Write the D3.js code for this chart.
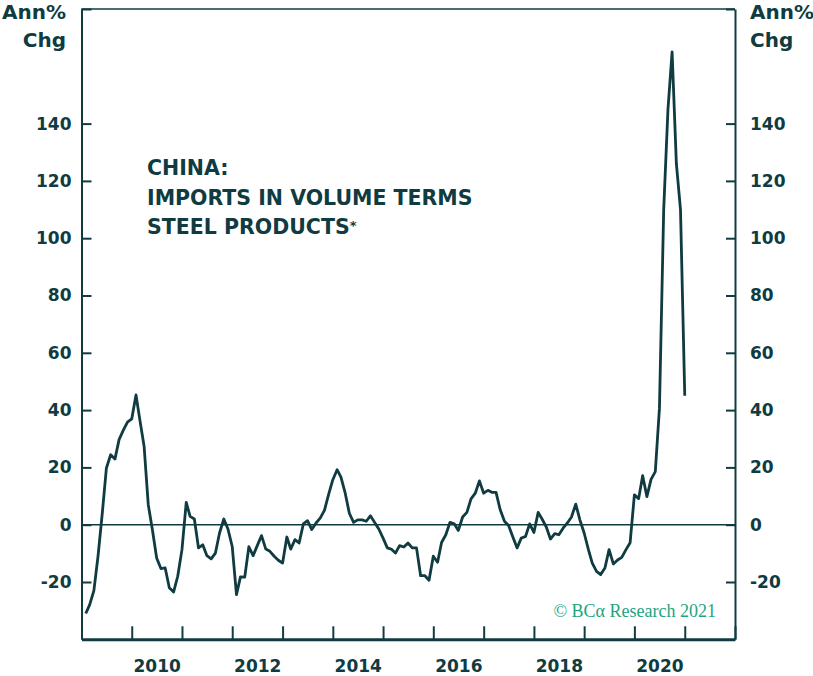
<!DOCTYPE html>
<html><head><meta charset="utf-8">
<script src="https://cdn.jsdelivr.net/npm/d3@7"></script>
<style>body{margin:0;background:#fff} svg{display:block}</style>
</head><body><svg id="c" width="813" height="676"></svg>
<script>
// ---- data ----
const startMonth = "2009-02";   // first monthly observation
const values = [
  -31, -28, -23, -11, 4, 19.8, 24.4, 22.9, 29.7, 33,
  35.8, 36.9, 45.3, 36.6, 27.3, 7, -2, -11.6, -15.3, -15.1,
  -22, -23.5, -18, -8.7, 7.8, 2.9, 2, -8.1, -7, -10.8,
  -11.9, -9.9, -2.9, 2, -1.5, -7.6, -24.4, -18.2, -18.3, -7.7,
  -10.8, -7.3, -3.8, -8.5, -9.3, -11, -12.4, -13.4, -4.3, -8.5,
  -5.2, -6.4, 0.3, 1.4, -1.7, 0.6, 2.3, 5, 10.5, 15.7,
  19.2, 16.6, 11, 4, 0.8, 1.7, 1.7, 1.2, 3.1, 0.8,
  -1.5, -4.7, -8.1, -8.5, -9.9, -7.3, -7.8, -6.4, -8.1, -8.1,
  -17.8, -17.8, -19.4, -11, -13.1, -6.2, -3.5, 0.8, 0.3, -2,
  2.7, 4.3, 9, 11, 15.3, 11, 12, 11.3, 11.3, 5.2,
  1.2, -0.3, -4.3, -8.1, -4.7, -4.1, 0.3, -2.7, 4.3, 2,
  -0.8, -5, -3.1, -3.5, -1.2, 0.6, 2.7, 7.2, 1.7, -2.9,
  -8.7, -13.4, -16.3, -17.4, -15.1, -8.7, -13.7, -12.3, -11.4, -8.7,
  -6.3, 10.4, 9.1, 17.1, 9.8, 15.8, 18.5, 40.6, 110, 145,
  165, 126, 110, 45
];
const yTicks = [-20, 0, 20, 40, 60, 80, 100, 120, 140];
const yFrameTicks = [180];
const xTickYears = [2009,2010,2011,2012,2013,2014,2015,2016,2017,2018,2019,2020,2021,2022];
const xLabelYears = [2010, 2012, 2014, 2016, 2018, 2020];
const titleLines = ["CHINA:", "IMPORTS IN VOLUME TERMS", "STEEL PRODUCTS"];
const titleNote = "*";
const unitLines = ["Ann%", "Chg"];
const credit = "© BCα Research 2021";

// ---- layout ----
const L = 81.5, R = 735, T = 9, B = 639.3;
const ink = "#0f3b41";
const font = "'DejaVu Sans', Inter, sans-serif";

const parse = d3.timeParse("%Y-%m");
const t0 = parse(startMonth);
const data = values.map((v, i) => ({ date: d3.timeMonth.offset(t0, i), v }));

const x = d3.scaleTime().domain([new Date(2009, 0, 1), new Date(2022, 0, 1)]).range([L, R]);
const y = d3.scaleLinear().domain([-40, 180]).range([B, T]);

const svg = d3.select("#c");

// top border
svg.append("line").attr("x1", L).attr("x2", R).attr("y1", T).attr("y2", T)
  .attr("stroke", ink).attr("stroke-width", 1.5);

// zero line
svg.append("line").attr("x1", L).attr("x2", R).attr("y1", y(0)).attr("y2", y(0))
  .attr("stroke", ink).attr("stroke-width", 1.6);

function styleAxis(g, w) {
  g.select(".domain").attr("stroke", ink).attr("stroke-width", w);
  g.selectAll(".tick line").attr("stroke", ink).attr("stroke-width", 2);
  g.selectAll(".tick text").attr("fill", ink).attr("font-family", font)
    .attr("font-weight", 700).attr("font-size", 17);
}

// left axis
const gl = svg.append("g").attr("transform", `translate(${L},0)`)
  .call(d3.axisLeft(y).tickValues(yTicks.concat(yFrameTicks)).tickSizeInner(-10).tickSizeOuter(0).tickPadding(10)
    .tickFormat(d => yFrameTicks.includes(d) ? "" : d));
styleAxis(gl, 2);
// right axis
const gr = svg.append("g").attr("transform", `translate(${R},0)`)
  .call(d3.axisRight(y).tickValues(yTicks.concat(yFrameTicks)).tickSizeInner(-9).tickSizeOuter(0).tickPadding(15)
    .tickFormat(d => yFrameTicks.includes(d) ? "" : d));
styleAxis(gr, 2);

// bottom axis (year ticks)
const gb = svg.append("g").attr("transform", `translate(0,${B})`)
  .call(d3.axisBottom(x).tickValues(xTickYears.map(yr => new Date(yr, 0, 1))).tickSizeInner(-13).tickSizeOuter(0).tickFormat(""));
styleAxis(gb, 3);
// bottom labels centred in the year
const gb2 = svg.append("g").attr("transform", `translate(0,${B})`)
  .call(d3.axisBottom(x).tickValues(xLabelYears.map(yr => new Date(yr, 6, 1))).tickSize(0).tickPadding(21)
    .tickFormat(d => d.getFullYear()));
gb2.select(".domain").remove();
styleAxis(gb2, 0);

// series line
svg.append("path").datum(data)
  .attr("fill", "none").attr("stroke", ink).attr("stroke-width", 2.8)
  .attr("stroke-linejoin", "round")
  .attr("d", d3.line().x(d => x(d.date)).y(d => y(d.v)));

// unit labels
const ul = svg.append("text").attr("font-family", font).attr("font-weight", 700)
  .attr("font-size", 20).attr("fill", ink).attr("text-anchor", "end");
unitLines.forEach((s, i) => ul.append("tspan").attr("x", 66).attr("y", 18.5 + i * 28).text(s));
const ur = svg.append("text").attr("font-family", font).attr("font-weight", 700)
  .attr("font-size", 20).attr("fill", ink).attr("text-anchor", "start");
unitLines.forEach((s, i) => ur.append("tspan").attr("x", 750).attr("y", 18.5 + i * 28).text(s));

// title
const tt = svg.append("text").attr("font-family", font).attr("font-weight", 700)
  .attr("font-size", 20.5).attr("fill", ink);
titleLines.forEach((s, i) => tt.append("tspan").attr("x", 147).attr("y", 175 + i * 29.5).text(s));
tt.append("tspan").attr("font-size", 13).attr("dy", -4).text(titleNote);

// credit
svg.append("text").attr("x", 716).attr("y", 617).attr("text-anchor", "end")
  .attr("font-family", "'Liberation Serif', 'DejaVu Serif', serif").attr("font-size", 18)
  .attr("fill", "#1ea57f").text(credit);
</script></body></html>
